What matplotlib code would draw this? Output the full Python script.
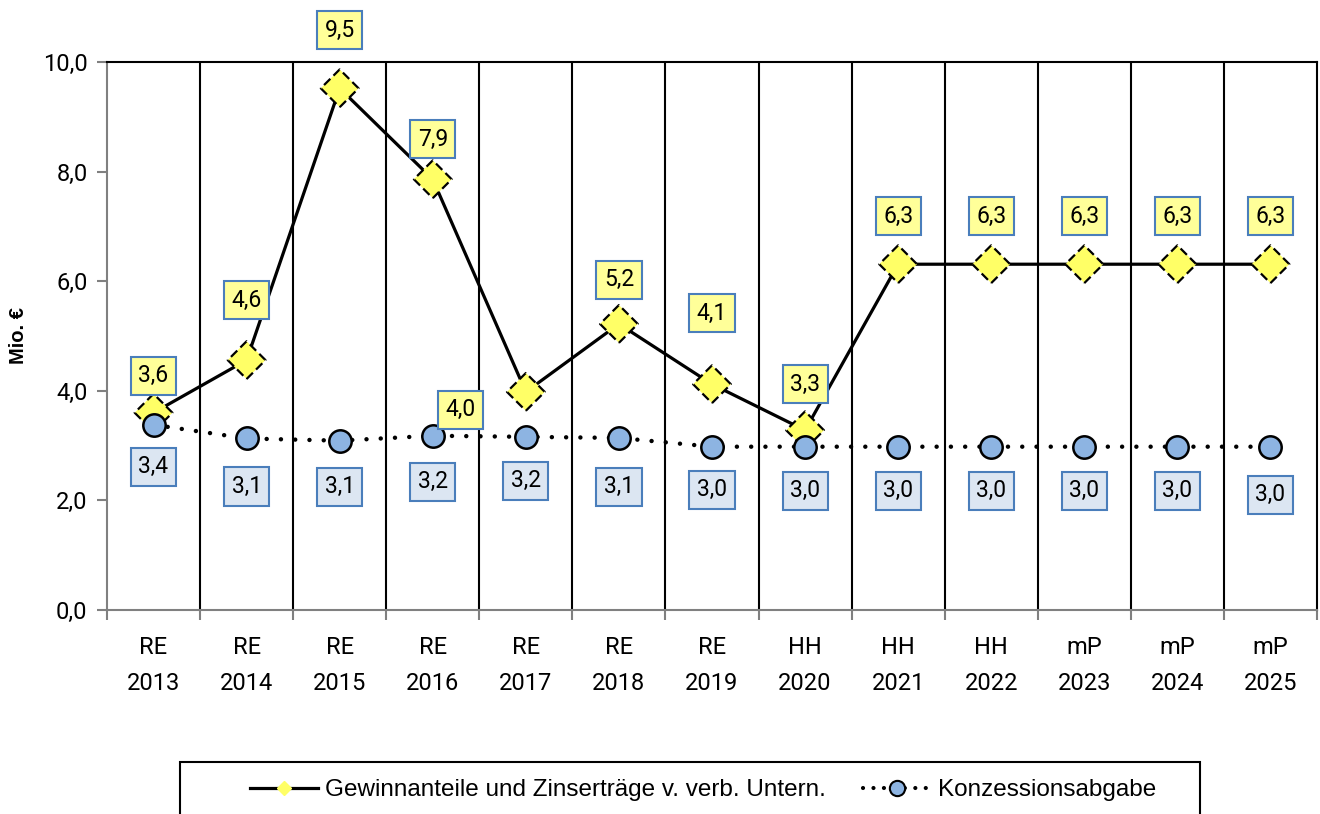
import numpy as np
import matplotlib
matplotlib.use("Agg")
import matplotlib.pyplot as plt
from matplotlib.lines import Line2D
from matplotlib.patches import Rectangle

# --- data ---
kind = ["RE", "RE", "RE", "RE", "RE", "RE", "RE", "HH", "HH", "HH", "mP", "mP", "mP"]
years = [2013, 2014, 2015, 2016, 2017, 2018, 2019, 2020, 2021, 2022, 2023, 2024, 2025]
gewinn = [3.6, 4.56, 9.52, 7.86, 3.98, 5.22, 4.12, 3.28, 6.31, 6.31, 6.31, 6.31, 6.31]
konzession = [3.38, 3.13, 3.09, 3.18, 3.16, 3.14, 2.98, 2.98, 2.98, 2.98, 2.98, 2.98, 2.98]
yticks = [0, 2, 4, 6, 8, 10]

# label offsets in pixels (dx, dy), like Excel placed them
gewinn_off = [(0, 37), (0, 60), (0, 58), (0, 40), (-65, -18), (0, 44), (0, 71),
              (0, 46), (0, 48), (0, 48), (0, 48), (0, 48), (0, 48)]
konz_off = [(0, -42), (0, -48), (0, -46), (0, -46), (0, -44), (0, -49), (0, -43),
            (0, -44), (0, -44), (0, -44), (0, -44), (0, -44), (0, -48)]

W, H = 1320, 814
fig = plt.figure(figsize=(W / 100, H / 100), dpi=100)
ax = fig.add_axes([107 / W, 1 - 610 / H, (1317 - 107) / W, (610 - 62) / H])

x = np.arange(len(years))
lab_font = "Roboto"
fmt = lambda v: f"{v:.1f}".replace(".", ",")

# category separators
for b in x[:-1] + 0.5:
    ax.axvline(b, color="black", lw=1.5, zorder=1)

ax.plot(x, gewinn, color="black", lw=2.3, zorder=3, solid_capstyle="round")
ax.scatter(x, gewinn, marker="D", s=370, facecolor="#FFFF66", edgecolor="black",
           linewidths=1.6, linestyles=(0, (4, 2)), zorder=4)

ax.plot(x, konzession, color="black", lw=3.2, linestyle=(0, (0.01, 3.2)),
        dash_capstyle="round", zorder=5)
ax.scatter(x, konzession, marker="o", s=260, facecolor="#8DB4E2", edgecolor="black",
           linewidths=1.8, zorder=6)

for xi, v, (dx, dy) in zip(x, gewinn, gewinn_off):
    ax.annotate(fmt(v), (xi, v), xytext=(dx, dy), textcoords="offset pixels",
                ha="center", va="center", fontsize=16.5, family=lab_font, zorder=7,
                bbox=dict(boxstyle="square,pad=0.33", fc="#FFFF99", ec="#4A7EBB", lw=1.5),
                annotation_clip=False)
for xi, v, (dx, dy) in zip(x, konzession, konz_off):
    ax.annotate(fmt(v), (xi, v), xytext=(dx, dy), textcoords="offset pixels",
                ha="center", va="center", fontsize=16.5, family=lab_font, zorder=7,
                bbox=dict(boxstyle="square,pad=0.33", fc="#DCE6F2", ec="#4A7EBB", lw=1.5),
                annotation_clip=False)

ax.set_xlim(-0.5, len(years) - 0.5)
ax.set_ylim(0, 10)

# y axis
ax.set_yticks(yticks)
ax.set_yticklabels([fmt(t) for t in yticks], family=lab_font, fontsize=17)
ax.tick_params(axis="y", length=7, width=1.5, color="#808080", pad=7)

# x axis: ticks at boundaries, labels at centres
ax.set_xticks(np.arange(-0.5, len(years)))
ax.set_xticklabels([])
ax.tick_params(axis="x", which="major", length=7, width=1.5, color="#808080")
ax.set_xticks(x, minor=True)
ax.set_xticklabels([f"{k}\n{y}" for k, y in zip(kind, years)], minor=True,
                   family=lab_font, fontsize=17, linespacing=1.7)
ax.tick_params(axis="x", which="minor", length=0, pad=19)

for side in ["left", "bottom"]:
    ax.spines[side].set_color("#808080")
    ax.spines[side].set_linewidth(1.5)
for side in ["top", "right"]:
    ax.spines[side].set_color("black")
    ax.spines[side].set_linewidth(1.5)

fig.text(18 / W, 1 - 336 / H, "Mio. €", rotation=90, ha="center", va="center",
         fontsize=14.5, fontweight="bold", family="Liberation Sans")

# legend
fig.patches.append(Rectangle((180 / W, -0.02), (1200 - 180) / W, 0.02 + (814 - 762) / H,
                             transform=fig.transFigure, fill=False, ec="black", lw=1.5))
handles = [
    Line2D([], [], color="black", lw=2.3, marker="D", ms=7, mfc="#FFFF66", mec="#FFFF66"),
    Line2D([], [], color="black", lw=3, linestyle=(0, (0.01, 2.5)), dash_capstyle="round",
           marker="o", ms=11, mfc="#8DB4E2", mec="black", mew=1.5),
]
fig.legend(handles, ["Gewinnanteile und Zinserträge v. verb. Untern.", "Konzessionsabgabe"],
           loc="center", bbox_to_anchor=(703 / W, 1 - 790 / H), ncol=2, frameon=False,
           prop={"family": "Liberation Sans", "size": 17.5}, handlelength=2.8,
           columnspacing=1.5, handletextpad=0.3)

fig.savefig("out.png", dpi=100)
